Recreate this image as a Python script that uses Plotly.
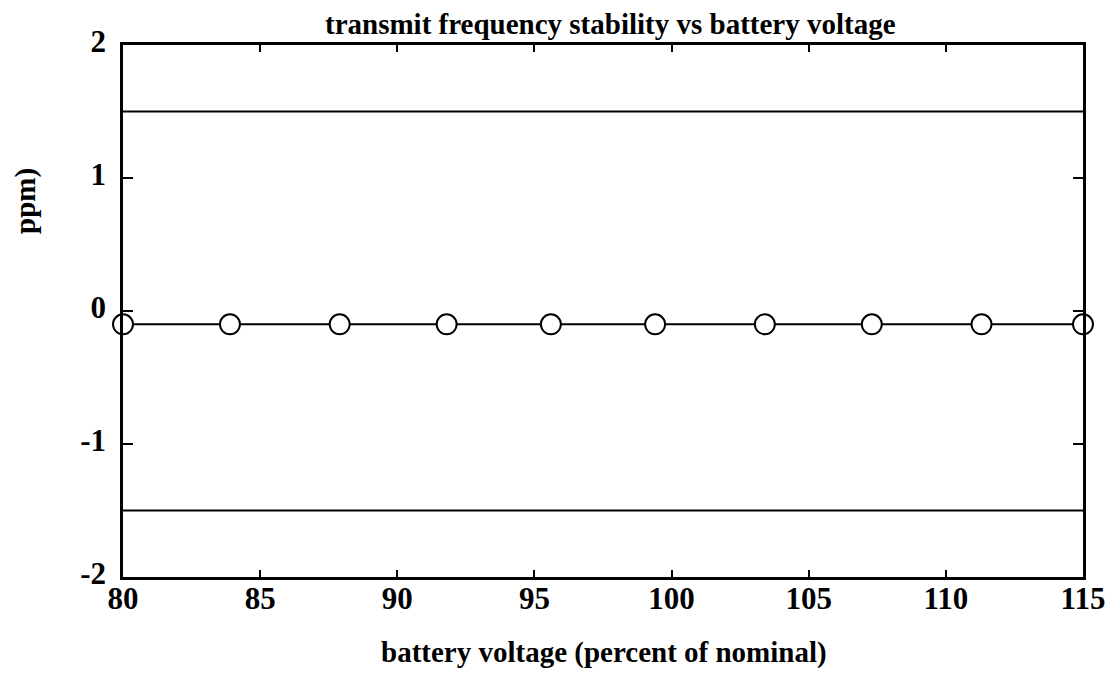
import plotly.graph_objects as go

voltage = [80, 83.9, 87.9, 91.8, 95.6, 99.4, 103.4, 107.3, 111.3, 115]
ppm = [-0.1, -0.1, -0.1, -0.1, -0.1, -0.1, -0.1, -0.1, -0.1, -0.1]
limit_x = [80, 115]
upper_limit = [1.5, 1.5]
lower_limit = [-1.5, -1.5]
x_ticks = [80, 85, 90, 95, 100, 105, 110, 115]
y_ticks = [-2, -1, 0, 1, 2]
y_tick_text = ["-2", "-1", "0", "1", "2"]

FONT = "Liberation Serif"

fig = go.Figure()
fig.add_trace(go.Scatter(x=limit_x, y=upper_limit, mode="lines",
                         line=dict(color="black", width=2), showlegend=False))
fig.add_trace(go.Scatter(x=limit_x, y=lower_limit, mode="lines",
                         line=dict(color="black", width=2), showlegend=False))
fig.add_trace(go.Scatter(x=voltage, y=ppm, mode="lines+markers",
                         line=dict(color="black", width=2),
                         marker=dict(symbol="circle", size=20, color="white",
                                     line=dict(color="black", width=2)),
                         showlegend=False, cliponaxis=False))

fig.update_layout(
    width=1113, height=673,
    margin=dict(l=123, r=30, t=45, b=96, autoexpand=False),
    paper_bgcolor="white", plot_bgcolor="white",
    font=dict(family=FONT, size=30, color="black", weight="bold"),
    annotations=[
        dict(text="transmit frequency stability vs battery voltage",
             xref="paper", yref="paper", x=(610 - 123) / 960, y=(577 - 24) / 532,
             xanchor="center", yanchor="middle", showarrow=False,
             font=dict(family=FONT, size=29, weight="bold")),
        dict(text="battery voltage (percent of nominal)",
             xref="paper", yref="paper", x=(604 - 123) / 960, y=(577 - 652) / 532,
             xanchor="center", yanchor="middle", showarrow=False,
             font=dict(family=FONT, size=29, weight="bold")),
        dict(text="ppm)", textangle=-90,
             xref="paper", yref="paper", x=(25 - 123) / 960, y=(577 - 201) / 532,
             xanchor="center", yanchor="middle", showarrow=False,
             font=dict(family=FONT, size=29, weight="bold")),
    ],
)
fig.update_xaxes(range=[80, 115], tickvals=x_ticks, ticks="inside", ticklen=7,
                 tickwidth=2, tickcolor="black", mirror="ticks",
                 showline=True, linecolor="black", linewidth=2.5,
                 showgrid=False, zeroline=False, ticklabelstandoff=-8,
                 tickfont=dict(family=FONT, size=31, weight="bold"))
fig.update_yaxes(range=[-2, 2], tickvals=y_ticks, ticktext=y_tick_text,
                 ticks="inside", ticklen=10,
                 tickwidth=2, tickcolor="black", mirror="ticks",
                 showline=True, linecolor="black", linewidth=2.5,
                 showgrid=False, zeroline=False,
                 ticklabelshift=-4, ticklabelstandoff=8,
                 tickfont=dict(family=FONT, size=31, weight="bold"))

fig.write_html("out.html")
